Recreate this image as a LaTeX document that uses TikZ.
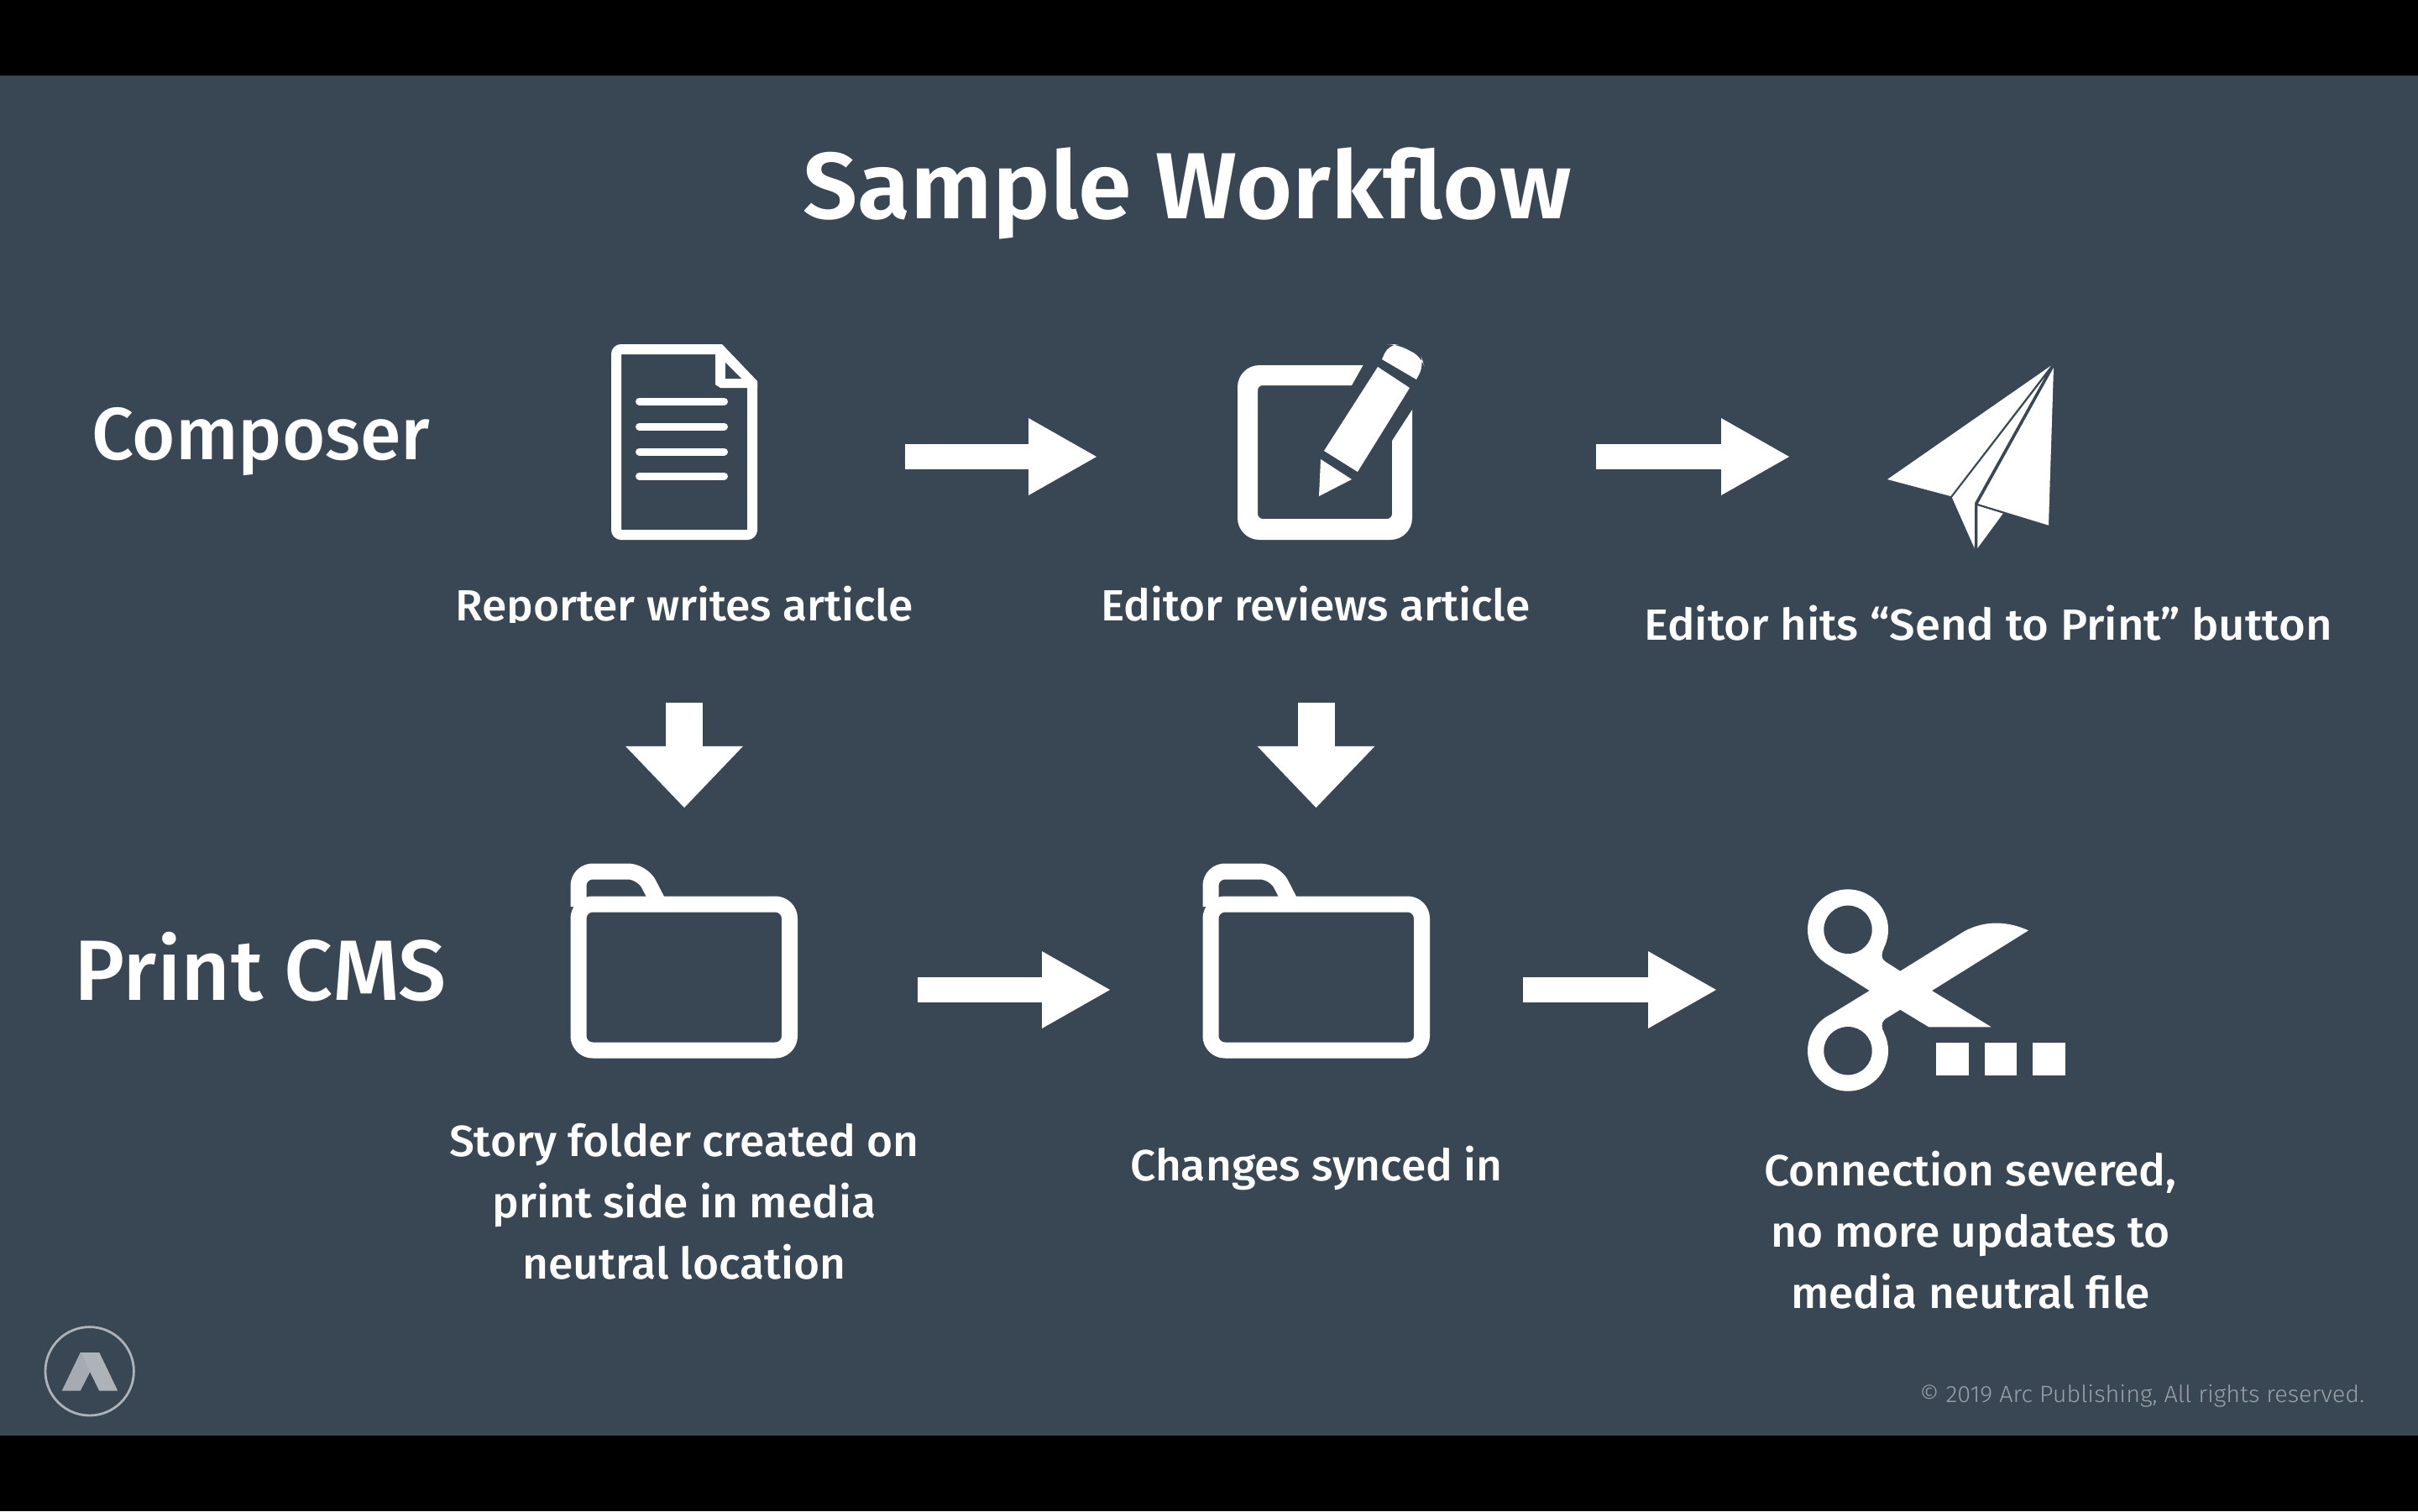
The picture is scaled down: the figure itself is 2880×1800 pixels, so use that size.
\documentclass[tikz,border=0pt]{standalone}
\usepackage{fontspec}
\usetikzlibrary{arrows.meta}
\newfontfamily\lab[FakeStretch=1.025]{Fira Sans Medium}
\newfontfamily\labwide[FakeStretch=1.048]{Fira Sans Medium}
\newfontfamily\labplain{Fira Sans Medium}
\newfontfamily\labtitle[FakeStretch=1.029]{Fira Sans SemiBold}
\newfontfamily\foot[FakeStretch=1.03]{Fira Sans Light}
\definecolor{bgslate}{HTML}{394654}
\definecolor{logoa}{HTML}{A5ABB0}
\definecolor{logob}{HTML}{AEB3B8}
\definecolor{foottext}{HTML}{9AA2A9}
\tikzset{
  x=0.25pt,y=-0.25pt,
  titletext/.style={text=white,inner sep=0pt,anchor=base,font=\labtitle\fontsize{28}{34}\selectfont},
  rowtitle/.style={text=white,inner sep=0pt,anchor=base,font=\labplain\fontsize{22}{26}\selectfont},
  rowtitleb/.style={text=white,inner sep=0pt,anchor=base,font=\labplain\fontsize{25.5}{30}\selectfont},
  caption/.style={text=white,inner sep=0pt,anchor=base,align=center,font=\lab\fontsize{13}{18.4}\selectfont},
  captionwide/.style={caption,font=\labwide\fontsize{13}{18.4}\selectfont},
  rightarrow/.style={draw=white,line width=7.5pt,line cap=butt,-{Triangle[length=20.25pt,width=23pt,line width=0pt,fill=white]}},
  downarrow/.style={draw=white,line width=11pt,line cap=butt,-{Triangle[length=18.3pt,width=35pt,line width=0pt,fill=white]}},
  folder/.style={draw=white,line width=4.75pt,rounded corners=4.25pt,line join=round},
}
\begin{document}
\begin{tikzpicture}
\useasboundingbox (0,0) rectangle (2880,1800);
\fill[black] (0,0) rectangle (2880,1800);
\fill[bgslate] (0,90) rectangle (2880,1710);

\node[titletext] (title) at (1414,260) {Sample Workflow};
\node[rowtitle] (composer) at (311,547) {Composer};
\node[rowtitleb] (printcms) at (310,1191) {Print CMS};

% document icon
\draw[white,line width=3pt,rounded corners=1.5pt] (860,416) -- (734,416) -- (734,637) -- (896,637) -- (896,456);
\fill[white] (852,416) -- (860,410) -- (902,454) -- (902,462) -- (858,462) -- (852,458) -- cycle;
\fill[bgslate] (864,432) -- (864,451) -- (883,451) -- cycle;
\foreach \ly in {478,508,538,567}
  \draw[white,line width=2.25pt,line cap=round] (761.5,\ly) -- (862.5,\ly);

% pencil icon
\fill[white] (1623.5,435) [rounded corners=6.5pt] -- (1474,435) -- (1474,643) -- (1682,643) [sharp corners] -- (1682,488) -- (1658,525) [rounded corners=1.5pt] -- (1658,618) -- (1498,618) -- (1498,459) [sharp corners] -- (1610,459) -- cycle;
\fill[white] (1641,437) -- (1679,462) -- (1617,562) -- (1577,537) -- cycle;
\fill[white] (1646,428) [rounded corners=3pt] -- (1654,410) -- (1664,410) -- (1693,425) -- (1696,435) [sharp corners] -- (1687,452) -- cycle;
\fill[white] (1573,547) -- (1610,571) -- (1571,591) -- cycle;

% paper plane
\fill[white] (2442.7,435.7) -- (2248,571) -- (2323.3,591) -- cycle;
\fill[white] (2435,450) -- (2325,592.7) -- (2351.7,653) -- (2352,599) -- cycle;
\fill[white] (2446,438) -- (2356,600) -- (2440,625.7) -- cycle;
\fill[white] (2355.3,602.3) -- (2385.7,611.7) -- (2355.3,653) -- cycle;

% folders
\foreach \fx in {0,753}{
  \begin{scope}[xshift=\fx*0.25pt]
    \draw[folder] (689,1077) -- (940.5,1077) -- (940.5,1251) -- (689,1251) -- cycle;
    \draw[folder] (689,1080) -- (689,1038) -- (765,1038) -- (785,1077);
  \end{scope}
}

% scissors
\fill[white] (2201,1107.3) circle[radius=48];
\fill[white] (2201,1251.7) circle[radius=48];
\fill[white] (2263.3,1156.7) -- (2340,1109) .. controls (2367,1095) and (2393,1098) .. (2416,1108.3)
  -- (2301,1180) -- (2371.7,1223.3) -- (2297.3,1223.3) -- (2263.3,1202.7) -- (2245,1214)
  .. controls (2240,1218) and (2241,1225) .. (2244,1230) -- (2175,1211.7) -- (2226.7,1180) -- (2175,1147.3)
  -- (2244,1129.3) .. controls (2240,1137) and (2241,1142) .. (2245,1145) -- cycle;
\fill[bgslate] (2201,1107.3) circle[radius=28.7];
\fill[bgslate] (2201,1251.7) circle[radius=28.7];
\fill[white] (2306.3,1242.3) rectangle (2345,1280.7);
\fill[white] (2364,1242.3) rectangle (2402.3,1280.7);
\fill[white] (2421.3,1242.3) rectangle (2460,1280.7);

% block arrows
\coordinate (ra1s) at (1078,544); \coordinate (ra1e) at (1306,544);
\coordinate (ra2s) at (1901,544); \coordinate (ra2e) at (2131,544);
\coordinate (ra3s) at (1093,1179); \coordinate (ra3e) at (1322,1179);
\coordinate (ra4s) at (1814,1179); \coordinate (ra4e) at (2044,1179);
\coordinate (da1s) at (815,837); \coordinate (da1e) at (815,962);
\coordinate (da2s) at (1567.5,837); \coordinate (da2e) at (1567.5,962);
\draw[rightarrow] (ra1s) -- (ra1e);
\draw[rightarrow] (ra2s) -- (ra2e);
\draw[rightarrow] (ra3s) -- (ra3e);
\draw[rightarrow] (ra4s) -- (ra4e);
\draw[downarrow] (da1s) -- (da1e);
\draw[downarrow] (da2s) -- (da2e);

% captions
\begin{scope}
  \clip (500,680) rectangle (1130,741);
  \node[caption] (reporter) at (815,739) {Reporter writes article};
\end{scope}
\node[caption] (editor) at (1567,739) {Editor reviews article};
\node[captionwide] (hits) at (2368,762) {Editor hits “Send to Print” button};
\node[caption] (story1) at (815,1377) {Story folder created on};
\node[caption] (story2) at (815,1450) {print side in media};
\node[caption] (story3) at (815,1523.5) {neutral location};
\node[caption] (synced) at (1568,1406) {Changes synced in};
\node[caption] (conn1) at (2347,1412.5) {Connection severed,};
\node[caption] (conn2) at (2347,1485) {no more updates to};
\node[caption] (conn3) at (2347,1558.5) {media neutral file};

% logo and footer
\draw[logob,line width=0.7pt] (106.7,1633.3) circle[radius=52.7];
\fill[logoa] (73.7,1656.7) -- (95.7,1656.7) -- (107.3,1634) -- (95.7,1611) -- cycle;
\fill[logob] (95.7,1611) -- (118.3,1611) -- (140.3,1656.7) -- (118.3,1656.7) -- cycle;
\node[text=foottext,inner sep=0pt,anchor=base east,font=\foot\fontsize{7}{9}\selectfont] (copyright) at (2817,1670) {© 2019 Arc Publishing, All rights reserved.};
\end{tikzpicture}
\end{document}
